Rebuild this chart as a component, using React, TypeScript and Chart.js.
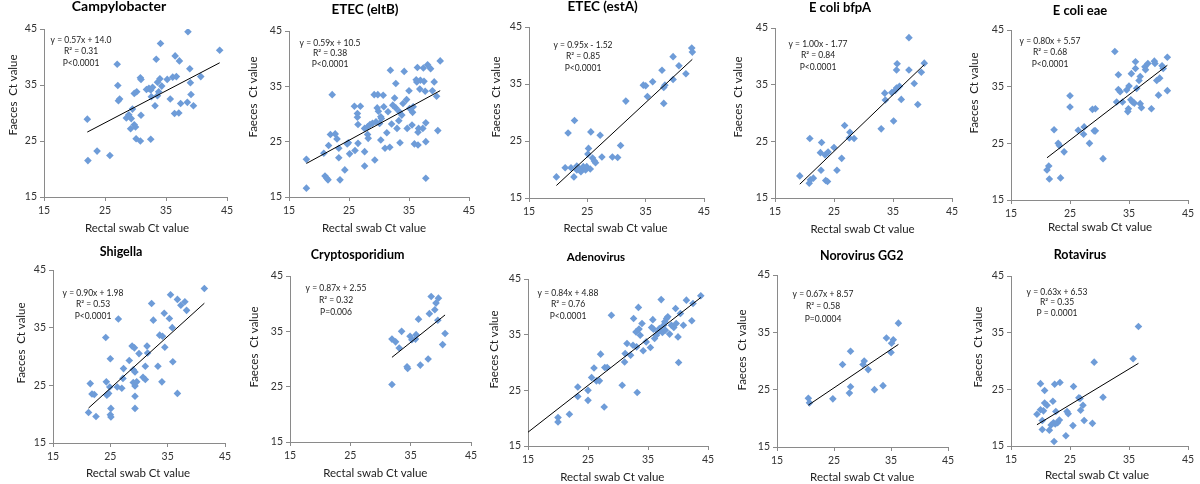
import React, { useEffect, useRef } from 'react';
import { Chart, registerables } from 'chart.js';

Chart.register(...registerables);

// ---------------- DATA ----------------
const titles = ['Campylobacter', 'ETEC (eltB)', 'ETEC (estA)', 'E coli bfpA', 'E coli eae', 'Shigella', 'Cryptosporidium', 'Adenovirus', 'Norovirus GG2', 'Rotavirus'];
const equations = ['y = 0.57x + 14.0', 'y = 0.59x + 10.5', 'y = 0.95x - 1.52', 'y = 1.00x - 1.77', 'y = 0.80x + 5.57', 'y = 0.90x + 1.98', 'y = 0.87x + 2.55', 'y = 0.84x + 4.88', 'y = 0.67x + 8.57', 'y = 0.63x + 6.53'];
const r2Labels = ['R² = 0.31', 'R² = 0.38', 'R² = 0.85', 'R² = 0.84', 'R² = 0.68', 'R² = 0.53', 'R² = 0.32', 'R² = 0.76', 'R² = 0.58', 'R² = 0.35'];
const pLabels = ['P<0.0001', 'P<0.0001', 'P<0.0001', 'P<0.0001', 'P<0.0001', 'P<0.0001', 'P=0.006', 'P<0.0001', 'P=0.0004', 'P = 0.0001'];
const yAxisTitles = ['Faeces  Ct value', 'Faeces  Ct value', 'Faeces  Ct value', 'Faeces  Ct value', 'Faeces  Ct value', 'Faeces  Ct value', 'Faeces  Ct value', 'Faeces Ct value', 'Faeces  Ct value', 'Faeces  Ct value'];
const xAxisTitle = 'Rectal swab Ct value';
const axisTicks = [15, 25, 35, 45];

const slopes = [0.57, 0.59, 0.95, 1.0, 0.8, 0.9, 0.87, 0.84, 0.67, 0.63];
const intercepts = [14.0, 10.5, -1.52, -1.77, 5.57, 1.98, 2.55, 4.88, 8.57, 6.53];
const trendFrom = [22.1, 17.9, 19.7, 19.2, 21.1, 21.2, 31.9, 15.0, 20.5, 19.4];
const trendTo = [43.8, 40.2, 43.0, 40.3, 41.5, 41.4, 40.7, 43.8, 36.3, 36.6];

const campyX = [22.1, 22.2, 23.7, 25.8, 27.0, 27.1, 27.2, 27.4, 28.5, 28.9, 29.3, 29.2, 29.5, 29.8, 30.0, 29.8, 30.2, 30.1, 30.8, 30.8, 30.9, 30.9, 31.8, 32.2, 32.5, 32.8, 32.6, 32.5, 33.2, 33.4, 33.6, 33.6, 33.8, 34.0, 34.1, 34.3, 35.2, 35.7, 36.1, 36.4, 36.7, 36.5, 37.1, 37.2, 37.4, 38.5, 38.6, 38.9, 39.0, 39.1, 39.5, 40.7, 43.8];
const campyY = [28.9, 21.5, 23.2, 22.4, 38.7, 34.9, 32.2, 32.5, 29.1, 29.7, 29.0, 27.2, 30.7, 27.9, 27.5, 33.5, 33.8, 25.4, 25.0, 36.3, 36.0, 29.6, 34.2, 34.4, 34.1, 34.6, 32.9, 25.3, 31.3, 39.6, 35.5, 33.1, 33.8, 36.1, 42.4, 34.8, 36.0, 32.5, 36.4, 29.9, 36.5, 40.2, 30.0, 39.3, 31.7, 31.9, 44.5, 37.9, 35.4, 33.3, 31.3, 36.5, 41.2];

const eltbX = [17.9, 17.9, 20.8, 21.0, 21.3, 21.5, 21.6, 21.9, 22.2, 22.7, 23.0, 23.3, 23.3, 23.5, 24.3, 24.7, 24.9, 25.1, 26.0, 25.9, 26.4, 26.4, 26.5, 26.5, 26.9, 27.6, 27.6, 27.6, 28.1, 28.1, 28.2, 28.5, 28.9, 29.2, 29.3, 29.5, 29.7, 29.9, 29.8, 30.1, 30.3, 30.4, 30.3, 30.7, 30.8, 31.0, 31.3, 31.5, 31.8, 31.9, 32.1, 32.3, 32.6, 32.8, 32.8, 33.0, 33.3, 33.4, 33.5, 33.8, 34.0, 34.2, 34.6, 34.7, 35.0, 35.1, 35.6, 35.7, 35.5, 35.9, 36.2, 36.3, 36.4, 36.5, 36.5, 36.6, 36.8, 36.9, 37.4, 37.5, 37.3, 37.7, 37.8, 37.8, 37.8, 38.1, 38.6, 38.9, 39.2, 39.6, 39.8, 40.2];
const eltbY = [16.6, 21.8, 22.9, 18.8, 18.4, 18.1, 24.3, 26.3, 33.5, 26.4, 25.5, 22.1, 23.8, 18.1, 19.9, 24.6, 24.8, 22.8, 23.4, 31.4, 30.1, 29.4, 28.1, 24.7, 31.4, 23.2, 20.6, 27.4, 27.7, 26.3, 25.6, 28.1, 28.3, 33.5, 21.7, 28.6, 31.1, 30.5, 33.5, 28.3, 29.5, 29.2, 25.3, 33.4, 31.3, 23.8, 26.6, 30.4, 24.0, 37.9, 28.2, 31.6, 32.9, 35.5, 31.1, 27.4, 28.8, 30.4, 24.8, 29.8, 31.9, 37.7, 32.6, 27.4, 34.2, 31.0, 30.3, 31.3, 28.0, 24.6, 36.2, 35.8, 38.4, 24.4, 26.7, 27.4, 34.5, 36.1, 38.3, 35.9, 27.4, 34.1, 25.0, 28.4, 18.4, 38.9, 38.2, 34.2, 35.8, 33.2, 27.0, 39.6];

const estaX = [19.7, 21.2, 21.7, 22.2, 22.8, 22.7, 23.2, 23.2, 23.7, 23.9, 24.3, 24.7, 24.9, 25.2, 25.1, 25.5, 25.6, 25.9, 26.2, 26.4, 27.2, 27.5, 29.3, 30.2, 30.7, 31.6, 34.6, 35.0, 35.3, 36.2, 37.8, 38.1, 38.3, 38.1, 39.7, 39.7, 40.7, 41.9, 42.9, 43.0];
const estaY = [18.7, 20.3, 26.4, 20.3, 28.6, 18.7, 20.6, 19.9, 20.0, 19.6, 20.5, 19.9, 20.5, 23.7, 22.7, 20.1, 26.6, 22.0, 21.5, 21.2, 26.0, 22.2, 22.2, 22.1, 24.2, 32.0, 34.8, 34.7, 32.8, 35.4, 37.4, 34.4, 34.8, 31.6, 35.8, 39.8, 38.2, 36.8, 41.3, 40.6];

const bfpaX = [19.2, 20.8, 21.0, 21.5, 20.9, 22.7, 22.9, 22.8, 23.5, 23.6, 23.9, 24.0, 25.0, 25.5, 26.3, 26.8, 27.6, 27.7, 28.4, 33.0, 33.6, 33.7, 34.8, 35.1, 35.4, 35.6, 35.6, 35.7, 36.1, 36.4, 37.7, 37.7, 38.6, 39.2, 39.8, 40.3];
const bfpaY = [18.9, 17.6, 18.2, 18.5, 25.5, 23.0, 24.8, 19.9, 22.6, 18.1, 17.9, 23.1, 23.9, 19.9, 22.0, 27.8, 25.6, 26.6, 25.5, 27.2, 33.5, 32.3, 33.6, 28.6, 34.0, 34.4, 37.6, 38.7, 34.7, 32.4, 43.3, 37.6, 35.2, 31.5, 37.2, 38.8];

const eaeX = [21.1, 21.4, 21.5, 22.3, 23.0, 23.2, 23.4, 24.0, 25.0, 25.0, 26.4, 27.4, 27.3, 28.3, 28.8, 29.1, 29.3, 29.3, 30.6, 32.6, 32.9, 33.2, 33.2, 33.5, 33.9, 34.6, 34.8, 34.9, 35.0, 35.3, 35.4, 35.6, 35.9, 36.1, 36.1, 36.3, 36.7, 36.9, 36.9, 37.1, 37.7, 37.8, 38.2, 38.8, 39.3, 39.4, 39.7, 40.0, 40.2, 40.6, 40.8, 41.5, 41.5];
const eaeY = [20.3, 21.0, 18.7, 27.4, 25.0, 24.6, 18.9, 23.5, 33.4, 31.4, 27.3, 27.9, 26.6, 25.0, 31.0, 27.2, 31.1, 27.2, 22.3, 41.2, 32.3, 37.1, 34.5, 34.1, 32.3, 34.4, 30.6, 31.1, 35.1, 32.7, 37.3, 32.3, 32.1, 39.4, 38.2, 34.7, 36.1, 36.8, 32.0, 31.3, 38.5, 38.0, 39.1, 31.1, 39.5, 39.1, 36.1, 33.5, 36.5, 38.7, 38.2, 40.2, 34.3];

const shigX = [21.2, 21.5, 21.8, 22.2, 22.5, 24.2, 24.3, 24.4, 24.7, 24.9, 25.0, 25.1, 25.0, 25.1, 26.4, 26.2, 27.0, 27.2, 27.3, 28.3, 28.8, 29.0, 29.0, 29.2, 29.3, 29.3, 29.3, 29.3, 29.6, 30.0, 30.7, 31.1, 31.1, 31.4, 31.5, 32.2, 32.5, 33.3, 33.6, 34.1, 34.0, 34.4, 34.5, 35.3, 35.5, 35.8, 35.9, 36.7, 36.7, 37.3, 38.0, 38.3, 41.4];
const shigY = [20.3, 25.3, 23.5, 23.4, 19.6, 33.3, 25.6, 23.3, 23.6, 24.7, 29.6, 21.0, 19.9, 19.5, 36.5, 24.7, 24.5, 26.2, 27.9, 29.3, 31.8, 27.7, 25.5, 31.5, 27.3, 24.9, 23.1, 21.0, 25.6, 30.5, 26.4, 28.3, 26.0, 31.8, 30.6, 39.2, 36.3, 28.3, 33.7, 33.5, 25.6, 37.5, 31.6, 36.6, 40.7, 35.0, 29.1, 39.9, 23.6, 38.9, 39.5, 38.0, 41.8];

const cryptoX = [31.9, 31.9, 32.5, 33.1, 33.5, 34.4, 34.5, 34.9, 35.2, 35.9, 35.8, 36.3, 36.6, 37.9, 38.1, 38.4, 39.0, 39.2, 39.5, 39.6, 40.3, 40.7];
const cryptoY = [25.4, 33.6, 33.1, 32.0, 35.0, 28.6, 28.3, 34.1, 33.5, 34.4, 33.6, 37.2, 28.9, 30.0, 38.2, 41.3, 38.9, 40.1, 37.0, 41.0, 32.6, 34.6];

const adenoX = [20.0, 20.0, 21.9, 23.3, 23.3, 25.0, 25.0, 25.6, 26.0, 26.4, 26.9, 27.1, 27.8, 28.2, 27.7, 28.9, 30.7, 33.2, 31.1, 31.2, 32.1, 31.5, 32.5, 33.1, 32.6, 33.4, 33.0, 33.5, 33.7, 34.0, 34.2, 34.7, 35.4, 35.6, 35.8, 35.9, 36.1, 36.4, 36.7, 36.9, 37.2, 37.4, 37.6, 37.8, 38.1, 38.3, 37.9, 38.6, 38.9, 39.3, 39.7, 39.6, 40.0, 40.1, 40.4, 40.9, 41.4, 42.3, 42.5, 43.8];
const adenoY = [20.1, 19.3, 20.7, 25.6, 23.9, 25.0, 23.2, 27.3, 29.0, 26.7, 26.7, 31.5, 29.1, 29.1, 22.0, 38.5, 25.9, 24.6, 30.1, 31.6, 31.3, 33.4, 33.1, 32.8, 37.9, 39.9, 35.5, 36.0, 34.9, 37.0, 32.1, 33.7, 32.7, 36.3, 37.7, 36.0, 34.3, 34.9, 35.5, 36.1, 41.3, 35.4, 36.7, 37.3, 37.9, 38.2, 35.8, 35.1, 36.7, 36.3, 37.0, 39.7, 34.6, 30.0, 38.8, 36.7, 41.2, 37.5, 40.6, 42.0];

const noroX = [20.5, 20.7, 24.8, 26.5, 27.7, 27.9, 27.9, 30.1, 30.3, 31.0, 32.1, 33.6, 34.2, 35.0, 35.1, 35.4, 36.3];
const noroY = [23.5, 22.7, 23.4, 29.4, 24.4, 25.5, 31.7, 29.4, 30.0, 28.5, 25.0, 25.7, 34.0, 31.5, 33.1, 33.7, 36.6];

const rotaX = [19.4, 20.0, 20.0, 20.3, 20.3, 20.5, 20.7, 20.7, 21.1, 21.5, 21.8, 22.1, 22.2, 22.3, 22.4, 22.5, 22.6, 22.9, 23.2, 23.3, 24.3, 24.5, 24.7, 25.6, 25.5, 26.5, 26.7, 26.8, 27.2, 27.4, 28.8, 29.1, 30.6, 35.7, 36.6];
const rotaY = [20.6, 26.0, 21.4, 19.5, 17.9, 21.2, 24.8, 22.6, 22.2, 17.8, 18.7, 22.9, 19.1, 15.8, 25.9, 18.9, 21.1, 19.1, 19.6, 26.2, 16.8, 21.1, 20.7, 25.5, 18.6, 23.5, 23.4, 21.3, 22.2, 19.5, 19.0, 29.8, 23.6, 30.4, 36.1];

const seriesX = [campyX, eltbX, estaX, bfpaX, eaeX, shigX, cryptoX, adenoX, noroX, rotaX];
const seriesY = [campyY, eltbY, estaY, bfpaY, eaeY, shigY, cryptoY, adenoY, noroY, rotaY];

// ---------------- LAYOUT / STYLE ----------------
const FONT = 'Lato, "Open Sans", "DejaVu Sans", sans-serif';
const MARKER = '#6E9CD8';
const AXIS = '#8A8A8A';
const YW = 48;
const PAD_R = 12;
const TICK_SIZE = 10.5;
const NOTE_SIZE = 8.5;
const AXIS_TITLE_SIZE = 11.5;

type PanelLayout = {
  plot: number[];
  row: number[];
  title: number[];
  note: number[];
  yTitle: number[];
  xTitle: number[];
};

const TOP = [0, 241];
const BOTTOM = [241, 484];

const panelLayout: PanelLayout[] = [
  { plot: [44, 29, 227, 197], row: TOP, title: [119, 10.7, 14], note: [81, 40, 11.5], yTitle: [13, 95], xTitle: [137, 228] },
  { plot: [289, 31, 469, 197], row: TOP, title: [365, 14, 13.5], note: [330, 43, 10.7], yTitle: [253, 97], xTitle: [374, 228] },
  { plot: [529, 27, 704, 198], row: TOP, title: [602.7, 11, 13.5], note: [583, 45, 11.5], yTitle: [496, 97], xTitle: [615.5, 228] },
  { plot: [775, 28, 952, 198], row: TOP, title: [840, 11.5, 13], note: [818, 44, 11.5], yTitle: [738, 97], xTitle: [862.5, 229] },
  { plot: [1011, 30, 1188, 200], row: TOP, title: [1080, 15, 13], note: [1050, 41, 11.5], yTitle: [974, 93], xTitle: [1100, 227] },
  { plot: [53, 270, 225, 443], row: BOTTOM, title: [121, 256, 12.5], note: [93, 293, 11.5], yTitle: [21, 343], xTitle: [138, 473] },
  { plot: [290, 276, 471, 442], row: BOTTOM, title: [357.7, 259.3, 12.5], note: [336, 288, 12], yTitle: [254, 347], xTitle: [375.3, 473] },
  { plot: [528, 279, 708, 446], row: BOTTOM, title: [596, 260.7, 11.5], note: [568, 293, 11.5], yTitle: [494, 349.5], xTitle: [612.3, 477] },
  { plot: [777, 275, 948, 447], row: BOTTOM, title: [861.7, 260, 12.5], note: [823, 294, 12.5], yTitle: [742, 350], xTitle: [862.2, 477] },
  { plot: [1011, 276, 1188, 446], row: BOTTOM, title: [1080, 259.3, 12.5], note: [1057, 292, 10.5], yTitle: [978, 347], xTitle: [1097, 475] },
];

function Panel({ index }: { index: number }) {
  const ref = useRef<HTMLCanvasElement>(null);
  const lay = panelLayout[index];
  const [L, T, R, B] = lay.plot;
  const [rowTop, rowBottom] = lay.row;
  const left = L - YW;
  const width = R + PAD_R - left;
  const height = rowBottom - rowTop;

  useEffect(() => {
    if (!ref.current) return;
    const xs = seriesX[index];
    const ys = seriesY[index];
    const pts = xs.map((x, i) => ({ x, y: ys[i] }));
    const trend = [trendFrom[index], trendTo[index]].map((x) => ({ x, y: slopes[index] * x + intercepts[index] }));

    const textPlugin = {
      id: 'panelText' + index,
      afterDraw(chart: any) {
        const ctx = chart.ctx as CanvasRenderingContext2D;
        ctx.save();
        ctx.textAlign = 'center';
        ctx.fillStyle = '#000';
        ctx.textBaseline = 'alphabetic';
        ctx.font = `bold ${lay.title[2]}px ${FONT}`;
        ctx.fillText(titles[index], lay.title[0] - left, lay.title[1] - rowTop);

        ctx.textBaseline = 'middle';
        ctx.fillStyle = '#1a1a1a';
        ctx.font = `${NOTE_SIZE}px ${FONT}`;
        [equations[index], r2Labels[index], pLabels[index]].forEach((s, i) => {
          ctx.fillText(s, lay.note[0] - left, lay.note[1] - rowTop + i * lay.note[2]);
        });

        ctx.fillStyle = '#222';
        ctx.font = `${AXIS_TITLE_SIZE}px ${FONT}`;
        ctx.fillText(xAxisTitle, lay.xTitle[0] - left, lay.xTitle[1] - rowTop);

        ctx.translate(lay.yTitle[0] - left, lay.yTitle[1] - rowTop);
        ctx.rotate(-Math.PI / 2);
        ctx.fillText(yAxisTitles[index], 0, 0);
        ctx.restore();
      },
    };

    const axisCommon = {
      type: 'linear' as const,
      min: 15,
      max: 45,
      afterBuildTicks: (s: any) => {
        s.ticks = axisTicks.map((v) => ({ value: v }));
      },
      grid: { display: true, drawOnChartArea: false, drawTicks: true, tickLength: 4, color: AXIS, lineWidth: 1 },
      border: { display: true, color: AXIS, width: 1 },
    };

    const chart = new Chart(ref.current, {
      type: 'scatter',
      data: {
        datasets: [
          {
            data: trend,
            showLine: true,
            borderColor: '#000',
            borderWidth: 1,
            pointRadius: 0,
            order: 0,
          } as any,
          {
            data: pts,
            pointStyle: 'rectRot',
            pointRadius: 3.8,
            backgroundColor: MARKER,
            borderColor: MARKER,
            borderWidth: 0,
            order: 1,
          } as any,
        ],
      },
      options: {
        responsive: false,
        animation: false,
        events: [],
        layout: { padding: { top: T - rowTop, right: PAD_R, bottom: 0, left: 0 } },
        plugins: { legend: { display: false }, tooltip: { enabled: false }, title: { display: false } },
        scales: {
          x: {
            ...axisCommon,
            position: 'bottom',
            ticks: { font: { family: FONT, size: TICK_SIZE }, color: '#333', padding: 3, maxRotation: 0, autoSkip: false },
            afterFit: (s: any) => {
              s.height = rowBottom - B;
            },
          },
          y: {
            ...axisCommon,
            position: 'left',
            ticks: { font: { family: FONT, size: TICK_SIZE }, color: '#333', padding: 3, autoSkip: false },
            afterFit: (s: any) => {
              s.width = YW;
            },
          },
        },
      } as any,
      plugins: [textPlugin],
    });
    return () => chart.destroy();
  }, [index]);

  return (
    <canvas
      ref={ref}
      width={width}
      height={height}
      style={{ position: 'absolute', left, top: rowTop, width, height, display: 'block' }}
    />
  );
}

export default function App() {
  return (
    <div style={{ position: 'fixed', left: 0, top: 0, width: 1200, height: 484, background: '#fff', overflow: 'hidden' }}>
      {titles.map((_, i) => (
        <Panel key={i} index={i} />
      ))}
    </div>
  );
}
